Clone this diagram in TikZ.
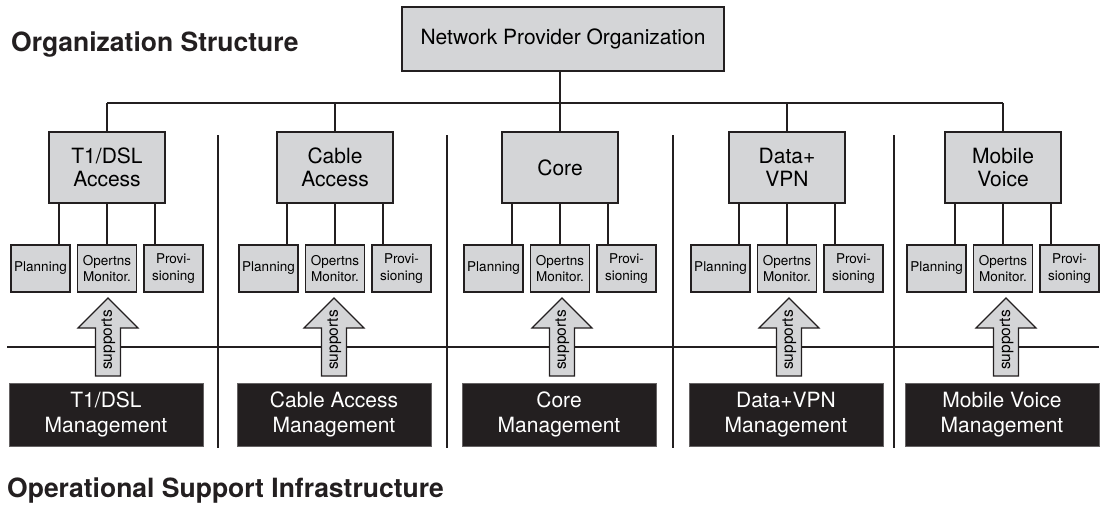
\documentclass[tikz,border=0pt]{standalone}
\usepackage{fontspec}
\setmainfont{TeX Gyre Heros}
\definecolor{boxgray}{RGB}{212,213,215}
\definecolor{ink}{RGB}{35,31,32}
\tikzset{
  orgbox/.style={draw=ink, fill=boxgray, line width=1.2pt, inner sep=0pt, align=center,
    font=\fontsize{21}{23}\selectfont},
  midbox/.style={orgbox, minimum width=116pt, minimum height=71pt},
  topbox/.style={orgbox, minimum width=322pt, minimum height=64pt},
  smallbox/.style={orgbox, minimum width=59pt, minimum height=47pt,
    font=\fontsize{13.5}{16.5}\selectfont},
  mgmtbox/.style={fill=ink, draw=ink!70, line width=0.8pt, text=white, inner sep=0pt,
    align=center, minimum width=194pt, minimum height=63pt,
    font=\fontsize{21}{25}\selectfont},
  conn/.style={draw=ink, line width=1.1pt},
  sepline/.style={draw=ink, line width=1.1pt},
  supportarrow/.style={draw=ink, fill=boxgray, line width=1.1pt, line join=miter},
  supportlabel/.style={rotate=90, inner sep=0pt, font=\fontsize{15.5}{17}\selectfont},
  titletext/.style={anchor=base west, inner sep=0pt, font=\bfseries\fontsize{26.5}{30}\selectfont, text=ink},
}
\newcommand{\orggroup}[5]{%
  \node[midbox] (mid#1) at (#2,167.5) {#4};
  \node[smallbox] (plan#1) at ({#2-66.5},268.5) {Planning};
  \node[smallbox] (ops#1) at (#2,268.5) {Opertns\\Monitor.};
  \node[smallbox] (prov#1) at ({#2+66.5},268.5) {Provi-\\sioning};
  \draw[conn] ([xshift=-48pt]mid#1.south) -- ([xshift=-48pt]mid#1.south |- plan#1.north);
  \draw[conn] (mid#1.south) -- (mid#1.south |- ops#1.north);
  \draw[conn] ([xshift=48pt]mid#1.south) -- ([xshift=48pt]mid#1.south |- prov#1.north);
  \draw[conn] (mid#1.north) -- (mid#1.north |- branch);
  \path[supportarrow] ({#3-12.5},376) -- ({#3-12.5},328) -- ({#3-30},328) -- (#3,298)
     -- ({#3+30},328) -- ({#3+12.5},328) -- ({#3+12.5},376) -- cycle;
  \node[supportlabel] (sup#1) at ({#3+0.5},340) {supports};
  \node[mgmtbox] (mgmt#1) at ({#2-1},414.5) {#5};
}
\begin{document}
\begin{tikzpicture}[x=1pt,y=-1pt]
\useasboundingbox (0,0) rectangle (1102,504);
\coordinate (branch) at (0,103);
\coordinate (hl) at (7,347);
\coordinate (hr) at (1099,347);
% separators and horizontal divider
\foreach \sx in {218,447,673,894} {
  \draw[sepline] (\sx,135) -- (\sx,448);
}
\draw[sepline] (hl) -- (hr);
% titles
\node[titletext] (orgtitle) at (11,51) {Organization Structure};
\node[titletext] (opstitle) at (7,497) {Operational Support Infrastructure};
% top box
\node[topbox] (top) at (563,39) {Network Provider Organization};
% groups
\orggroup{1}{107}{108}{T1/DSL\\Access}{T1/DSL\\Management}
\orggroup{2}{335}{334}{Cable\\Access}{Cable Access\\Management}
\orggroup{3}{560}{562}{Core}{Core\\Management}
\orggroup{4}{787}{789}{Data+\\VPN}{Data+VPN\\Management}
\orggroup{5}{1003}{1006}{Mobile\\Voice}{Mobile Voice\\Management}
% branch line
\draw[conn] (mid1.north |- branch) -- (mid5.north |- branch);
\draw[conn] (top.south -| mid3.north) -- (mid3.north |- branch);
\end{tikzpicture}
\end{document}
